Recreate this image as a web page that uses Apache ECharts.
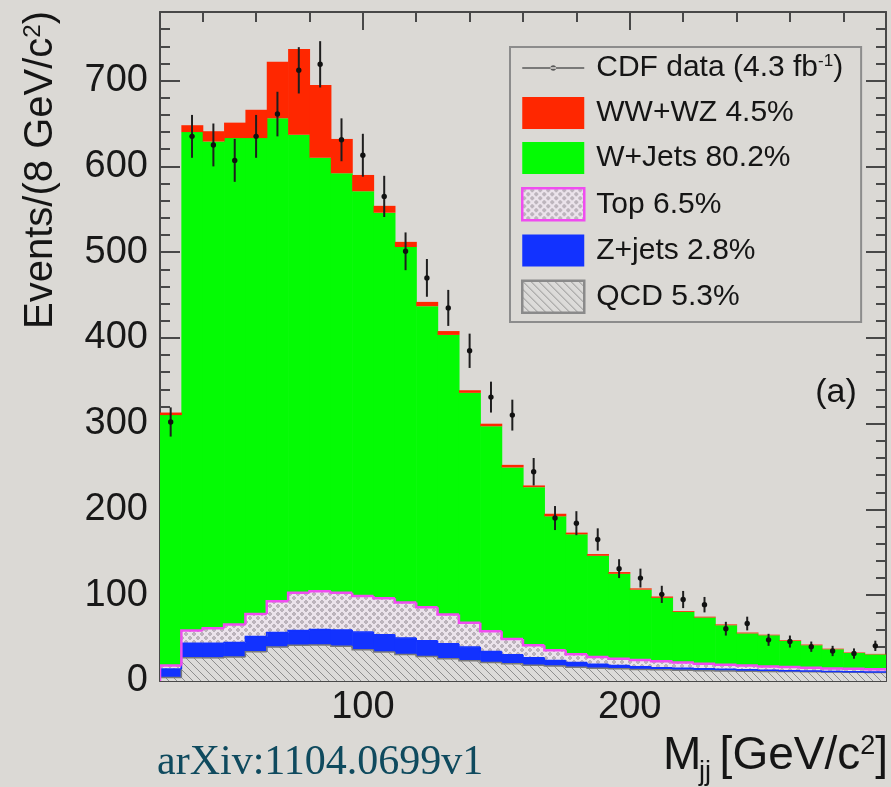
<!DOCTYPE html>
<html>
<head>
<meta charset="utf-8">
<script src="https://cdn.jsdelivr.net/npm/echarts@6/dist/echarts.min.js"></script>
<style>
  html, body { margin: 0; padding: 0; background: #dbd9d5; }
  #chart { width: 891px; height: 787px; }
</style>
</head>
<body>
<div id="chart"></div>
<script>
// Dijet invariant mass, 8 GeV/c^2 bins (lower edges)
const binLowEdges = [24, 32, 40, 48, 56, 64, 72, 80, 88, 96, 104, 112, 120, 128, 136, 144, 152,
  160, 168, 176, 184, 192, 200, 208, 216, 224, 232, 240, 248, 256, 264, 272, 280, 288];
const binWidth = 8;

// Stacked expectations per bin (events / 8 GeV/c^2)
const qcd = [4, 27, 27, 28, 34, 39.5, 41.6, 42, 40.5, 36.5, 33.8, 31, 28.5, 26, 23.5, 21.5, 20,
  18.5, 17.5, 16, 15, 14.2, 13.5, 13, 12.5, 12, 11.8, 11.5, 11.2, 11, 10.8, 10.5, 10.3, 10];
const zJets = [10, 17, 17, 17, 18, 17, 17.4, 18, 19, 20.5, 20.2, 19, 18.5, 17.5, 16, 13, 10.5,
  8.5, 6.5, 5.5, 4.5, 3.8, 3, 2.5, 2.3, 2.2, 1.8, 1.5, 1.3, 1, 0.8, 0.7, 0.5, 0.5];
const topQuark = [4, 15, 17.5, 21, 26, 36.5, 44, 44.5, 43.5, 42, 42.5, 41.5, 39, 34, 28.5, 23.5, 18.5,
  14.7, 11.8, 9.6, 8.5, 8, 8, 7.5, 6.7, 6, 5.4, 5, 4.5, 4.2, 3.8, 3.5, 3.4, 3.1];
const wJets = [292, 581, 567.5, 567, 555, 563, 534, 505.5, 489, 472, 449.5, 414.5, 351, 326, 268, 239, 200,
  184.3, 156.2, 139.9, 118, 99, 82, 74, 59, 53.8, 46, 37.5, 36.3, 30.5, 26.3, 22.3, 18.5, 17.4];
const wwWz = [3, 8, 12, 18, 33, 66, 100, 85, 40, 19, 8, 6, 5, 4.5, 3, 3, 3,
  2, 3, 2, 2, 2, 1.5, 1.5, 1, 1, 1, 1, 0.7, 0.8, 0.8, 0.7, 0.6, 0.6];

// Observed events and their uncertainties
const cdfData = [302, 635, 625, 607, 635, 661, 712, 719, 631, 613, 565, 501, 470, 435, 385, 331, 310,
  244, 190, 184, 165, 131, 120, 101, 95, 89, 61, 67, 48, 46, 40, 35, 32, 41];
const cdfErr = [17, 25, 25, 25, 25, 26, 27, 27, 25, 25, 24, 22, 22, 21, 20, 18, 18,
  16, 14, 14, 13, 11, 11, 10, 10, 9, 8, 8, 7, 7, 6, 6, 6, 6];

// Legend labels
const componentNames = ['WW+WZ', 'W+Jets', 'Top', 'Z+jets', 'QCD'];
const componentShares = ['4.5%', '80.2%', '6.5%', '2.8%', '5.3%'];
const dataName = 'CDF data';

// Axis ticks
const xMajorTicks = [100, 200];
const xMinorTicks = [40, 60, 80, 120, 140, 160, 180, 220, 240, 260, 280];
const yMajorTicks = [0, 100, 200, 300, 400, 500, 600, 700];
const yMinorTicks = [20, 40, 60, 80, 120, 140, 160, 180, 220, 240, 260, 280, 320, 340, 360, 380,
  420, 440, 460, 480, 520, 540, 560, 580, 620, 640, 660, 680, 720, 740, 760];

const FONT = "'Liberation Sans', Arial, Helvetica, sans-serif";
const SERIF = "'Liberation Serif', 'Times New Roman', serif";
const AXIS_COLOR = '#484848';
const INK = '#151515';

function makePattern(w, h, draw) {
  const c = document.createElement('canvas');
  c.width = w; c.height = h;
  draw(c.getContext('2d'), w, h);
  return { image: c, repeat: 'repeat' };
}
const qcdFill = makePattern(8, 8, function (g) {
  g.fillStyle = '#dcdbd9'; g.fillRect(0, 0, 8, 8);
  g.strokeStyle = '#8e8e8e'; g.lineWidth = 1;
  g.beginPath();
  g.moveTo(-1, -1); g.lineTo(9, 9);
  g.moveTo(-1, 7); g.lineTo(1, 9);
  g.moveTo(7, -1); g.lineTo(9, 1);
  g.stroke();
});
const topFill = makePattern(8, 8, function (g) {
  g.fillStyle = '#ebe3eb'; g.fillRect(0, 0, 8, 8);
  g.strokeStyle = '#9d959d'; g.lineWidth = 1;
  g.beginPath(); g.arc(2, 2, 1.3, 0, 2 * Math.PI); g.stroke();
  g.beginPath(); g.arc(6, 6, 1.3, 0, 2 * Math.PI); g.stroke();
});

const COLORS = {
  red: '#ff2700',
  green: '#04fb04',
  blue: '#1232ff',
  magenta: '#f04cf0',
  qcdLine: '#7a7a7a'
};

// stack bottom-up: QCD, Z+jets, Top, W+Jets, WW+WZ
const layers = [qcd, zJets, topQuark, wJets, wwWz];
const cumulative = [];
let running = binLowEdges.map(function () { return 0; });
layers.forEach(function (arr) {
  const base = running.slice();
  const top = running.map(function (v, i) { return v + arr[i]; });
  cumulative.push({ base: base, top: top });
  running = top;
});

function layerData(idx) {
  return binLowEdges.map(function (lo, i) {
    return [lo, lo + binWidth, cumulative[idx].base[i], cumulative[idx].top[i]];
  });
}
function outlineData(idx) {
  return binLowEdges.map(function (lo, i) {
    const prev = i === 0 ? 0 : cumulative[idx].top[i - 1];
    return [lo, lo + binWidth, cumulative[idx].top[i], prev];
  });
}

function layerRender(fill) {
  return function (params, api) {
    const a = api.coord([api.value(0), api.value(3)]);
    const b = api.coord([api.value(1), api.value(2)]);
    return {
      type: 'rect',
      shape: { x: a[0], y: a[1], width: b[0] - a[0] + 0.6, height: b[1] - a[1] },
      style: { fill: fill },
      silent: true
    };
  };
}
function outlineRender(color, width) {
  return function (params, api) {
    const a = api.coord([api.value(0), api.value(2)]);
    const b = api.coord([api.value(1), api.value(2)]);
    const c = api.coord([api.value(0), api.value(3)]);
    return {
      type: 'polyline',
      shape: { points: [c, a, b] },
      style: { stroke: color, lineWidth: width, fill: null },
      silent: true
    };
  };
}
function dataRender(params, api) {
  const x = api.value(0), v = api.value(1), e = api.value(2);
  const p = api.coord([x, v]);
  const hi = api.coord([x, v + e]);
  const lo = api.coord([x, v - e]);
  return {
    type: 'group',
    children: [
      { type: 'line', shape: { x1: p[0], y1: hi[1], x2: p[0], y2: lo[1] },
        style: { stroke: '#1e1e1e', lineWidth: 2 } },
      { type: 'circle', shape: { cx: p[0], cy: p[1], r: 2.7 }, style: { fill: '#111' } }
    ],
    silent: true
  };
}

function fillSeries(name, idx, fill, legendColor) {
  return {
    type: 'custom', name: name, renderItem: layerRender(fill),
    data: layerData(idx), encode: { x: [0, 1], y: [2, 3] },
    itemStyle: { color: legendColor }, clip: true
  };
}
function outlineSeries(idx, color, width) {
  return {
    type: 'custom', name: 'outline-' + idx, renderItem: outlineRender(color, width),
    data: outlineData(idx), encode: { x: [0, 1], y: [2, 3] }, clip: true
  };
}

const seriesName = function (i) { return componentNames[i] + ' ' + componentShares[i]; };

const dataSeries = {
  type: 'custom', name: dataName, renderItem: dataRender,
  data: binLowEdges.map(function (lo, i) { return [lo + binWidth / 2, cdfData[i], cdfErr[i]]; }),
  encode: { x: 0, y: 1 }, itemStyle: { color: '#333' }, z: 5
};

// legend marker for the data: a thin horizontal line with a dot, in a 62x32 box
const dataIcon = 'path://M0,0h0.01v0.01h-0.01z M61.99,31.99h0.01v0.01h-0.01z ' +
  'M0,15.2h62v1.6h-62z M28.2,16a2.8,2.8 0 1,0 5.6,0a2.8,2.8 0 1,0 -5.6,0z';

function xAxisDef(position, ticks, len, withLine, withLabels) {
  return {
    type: 'value', min: 24, max: 296, position: position,
    axisLine: { show: withLine, onZero: false, lineStyle: { color: AXIS_COLOR, width: 2 } },
    axisTick: { show: true, inside: true, length: len, customValues: ticks,
      lineStyle: { color: AXIS_COLOR, width: 2 } },
    axisLabel: withLabels
      ? { show: true, customValues: ticks, margin: 8, fontSize: 38, color: '#181818', fontFamily: FONT }
      : { show: false },
    splitLine: { show: false }
  };
}
function yAxisDef(position, ticks, len, withLine, withLabels) {
  return {
    type: 'value', min: 0, max: 780, position: position,
    axisLine: { show: withLine, onZero: false, lineStyle: { color: AXIS_COLOR, width: 2 } },
    axisTick: { show: true, inside: true, length: len, customValues: ticks,
      lineStyle: { color: AXIS_COLOR, width: 2 } },
    axisLabel: withLabels
      ? { show: true, customValues: ticks, margin: 12, fontSize: 38, color: '#181818', fontFamily: FONT }
      : { show: false },
    splitLine: { show: false }
  };
}

const chart = echarts.init(document.getElementById('chart'), null, { renderer: 'canvas' });
chart.setOption({
  animation: false,
  backgroundColor: '#dbd9d5',
  grid: { left: 160, top: 12, width: 726, height: 669, containLabel: false },
  xAxis: [
    xAxisDef('bottom', xMajorTicks, 20, true, true),
    xAxisDef('bottom', xMinorTicks, 10, false, false),
    xAxisDef('top', xMajorTicks, 18, true, false),
    xAxisDef('top', xMinorTicks, 10, false, false)
  ],
  yAxis: [
    yAxisDef('left', yMajorTicks, 20, true, true),
    yAxisDef('left', yMinorTicks, 10, false, false),
    yAxisDef('right', yMajorTicks, 20, true, false),
    yAxisDef('right', yMinorTicks, 10, false, false)
  ],
  legend: {
    orient: 'vertical', left: 510, top: 47,
    padding: [5, 18, 8, 11],
    itemWidth: 62, itemHeight: 32, itemGap: 13,
    borderColor: '#8c8c8c', borderWidth: 2, borderRadius: 0,
    selectedMode: false,
    textStyle: {
      fontFamily: FONT, fontSize: 30, color: INK, padding: [0, 0, 0, 7],
      rich: {
        sup: { fontFamily: FONT, fontSize: 17, color: INK, verticalAlign: 'top' }
      }
    },
    formatter: function (name) {
      return name === dataName ? 'CDF data (4.3 fb{sup|-1})' : name;
    },
    data: [
      { name: dataName, icon: dataIcon, itemStyle: { color: '#5a5a5a' } },
      { name: seriesName(0), icon: 'rect', itemStyle: { color: COLORS.red } },
      { name: seriesName(1), icon: 'rect', itemStyle: { color: COLORS.green } },
      { name: seriesName(2), icon: 'rect', itemStyle: { color: topFill, borderColor: COLORS.magenta, borderWidth: 2.5 } },
      { name: seriesName(3), icon: 'rect', itemStyle: { color: COLORS.blue } },
      { name: seriesName(4), icon: 'rect', itemStyle: { color: qcdFill, borderColor: '#8a8a8a', borderWidth: 2.5 } }
    ]
  },
  graphic: [
    {
      type: 'text', x: 41, y: 170, rotation: Math.PI / 2,
      style: {
        text: '{t|Events/(8 GeV/c}{s|2}{t|)}',
        align: 'center', verticalAlign: 'middle',
        rich: {
          t: { fontFamily: FONT, fontSize: 40, fill: INK },
          s: { fontFamily: FONT, fontSize: 24, fill: INK, verticalAlign: 'top' }
        }
      }
    },
    // x-axis title: M, subscript jj, then the unit
    {
      type: 'text', x: 663, y: 779,
      style: { text: 'M', fontFamily: FONT, fontSize: 46, fill: INK, align: 'left', verticalAlign: 'bottom' }
    },
    {
      type: 'text', x: 699, y: 786,
      style: { text: 'jj', fontFamily: FONT, fontSize: 27, fill: INK, align: 'left', verticalAlign: 'bottom' }
    },
    {
      type: 'text', x: 888, y: 779,
      style: {
        text: '{m|[GeV/c}{s|2}{m|]}',
        align: 'right', verticalAlign: 'bottom',
        rich: {
          m: { fontFamily: FONT, fontSize: 46, fill: INK },
          s: { fontFamily: FONT, fontSize: 27, fill: INK, verticalAlign: 'top' }
        }
      }
    },
    {
      type: 'text', x: 836, y: 393,
      style: { text: '(a)', fontFamily: FONT, fontSize: 34, fill: INK, align: 'center', verticalAlign: 'middle' }
    },
    {
      type: 'text', x: 157, y: 784,
      style: { text: 'arXiv:1104.0699v1', fontFamily: SERIF,
        fontSize: 42, fill: '#0f4a5e', align: 'left', verticalAlign: 'bottom' }
    }
  ],
  series: [
    fillSeries(seriesName(4), 0, qcdFill, qcdFill),
    fillSeries(seriesName(3), 1, COLORS.blue, COLORS.blue),
    fillSeries(seriesName(2), 2, topFill, topFill),
    fillSeries(seriesName(1), 3, COLORS.green, COLORS.green),
    fillSeries(seriesName(0), 4, COLORS.red, COLORS.red),
    outlineSeries(0, COLORS.qcdLine, 1.5),
    outlineSeries(1, COLORS.blue, 1.5),
    outlineSeries(2, COLORS.magenta, 2.5),
    dataSeries
  ]
});
</script>
</body>
</html>
